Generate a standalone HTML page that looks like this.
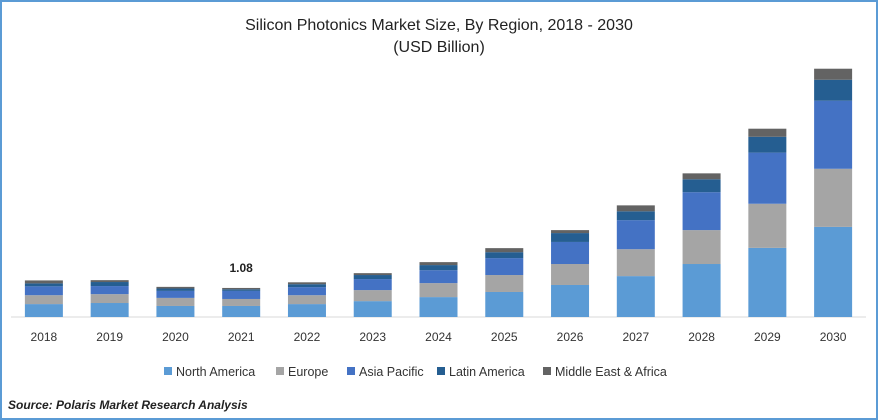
<!DOCTYPE html>
<html><head><meta charset="utf-8"><style>
body{margin:0;background:#fff;}
#wrap{position:relative;width:878px;height:420px;overflow:hidden;font-family:"Liberation Sans",sans-serif;}
#frame{position:absolute;left:0;top:0;width:874px;height:416px;border:2px solid #5b9bd5;}
</style></head><body>
<div id="wrap">
<div id="frame"></div>
<svg id="chart" width="878" height="420" style="position:absolute;left:0;top:0">
<text x="439" y="30" text-anchor="middle" font-size="16" fill="#222">Silicon Photonics Market Size, By Region, 2018 - 2030</text>
<text x="439" y="52" text-anchor="middle" font-size="16" fill="#222">(USD Billion)</text>
<line x1="11" y1="317" x2="866" y2="317" stroke="#d9d9d9" stroke-width="1"/>
<g id="bars"></g>
<g id="legend"></g>
<text x="8" y="409" font-size="12" font-weight="bold" font-style="italic" fill="#222">Source: Polaris Market Research Analysis</text>
</svg>
</div>
<script>
const categories=["2018","2019","2020","2021","2022","2023","2024","2025","2026","2027","2028","2029","2030"];
const northAmerica=[0.48,0.52,0.41,0.41,0.48,0.59,0.74,0.93,1.19,1.52,1.97,2.57,3.35];
const europe=[0.33,0.33,0.30,0.26,0.33,0.41,0.52,0.63,0.78,1.00,1.26,1.64,2.16];
const asiaPacific=[0.33,0.30,0.26,0.30,0.30,0.41,0.48,0.63,0.82,1.08,1.41,1.90,2.53];
const latinAmerica=[0.11,0.15,0.09,0.06,0.11,0.15,0.19,0.22,0.33,0.33,0.48,0.59,0.78];
const mea=[0.11,0.07,0.06,0.05,0.07,0.07,0.11,0.15,0.11,0.22,0.22,0.30,0.41];
const seriesNames=["North America","Europe","Asia Pacific","Latin America","Middle East & Africa"];
const annotatedIndex=3;
const annotatedLabel="1.08";

const NS="http://www.w3.org/2000/svg";
const series=[northAmerica,europe,asiaPacific,latinAmerica,mea];
const colors=["#5b9bd5","#a5a5a5","#4472c4","#255e91","#636363"];
const x0=11,x1=866,baseY=317,pxPerUnit=26.9,barW=38;
const band=(x1-x0)/categories.length;
function xCenter(i){return x0+band*(i+0.5);}
function yScale(v){return baseY-v*pxPerUnit;}
const bars=document.getElementById('bars');
categories.forEach((c,i)=>{
  let cum=0;
  series.forEach((s,k)=>{
    const r=document.createElementNS(NS,'rect');
    const top=yScale(cum+s[i]),bot=yScale(cum);
    r.setAttribute('x',xCenter(i)-barW/2);r.setAttribute('y',top);
    r.setAttribute('width',barW);r.setAttribute('height',bot-top);
    r.setAttribute('fill',colors[k]);
    
    
    bars.appendChild(r);
    cum+=s[i];
  });
  const t=document.createElementNS(NS,'text');
  t.setAttribute('x',xCenter(i));t.setAttribute('y',341);
  t.setAttribute('text-anchor','middle');t.setAttribute('font-size','12');t.setAttribute('fill','#333');
  t.textContent=c;
  
  
  bars.appendChild(t);
  if(i===annotatedIndex){
    const a=document.createElementNS(NS,'text');
    a.setAttribute('x',xCenter(i));a.setAttribute('y',yScale(cum)-16);
    a.setAttribute('text-anchor','middle');a.setAttribute('font-size','12');a.setAttribute('font-weight','bold');a.setAttribute('fill','#222');
    a.textContent=annotatedLabel;
    
    
    bars.appendChild(a);
  }
});
const lx=[164,276,347,437,543];
const lg=document.getElementById('legend');
seriesNames.forEach((n,k)=>{
  const g=document.createElementNS(NS,'g');
  
  
  const r=document.createElementNS(NS,'rect');
  r.setAttribute('x',lx[k]);r.setAttribute('y',367);r.setAttribute('width',8);r.setAttribute('height',8);r.setAttribute('fill',colors[k]);
  const t=document.createElementNS(NS,'text');
  t.setAttribute('x',lx[k]+12);t.setAttribute('y',376);t.setAttribute('font-size','12.5');t.setAttribute('fill','#333');
  t.textContent=n;
  g.appendChild(r);g.appendChild(t);lg.appendChild(g);
});
</script>
</body></html>
